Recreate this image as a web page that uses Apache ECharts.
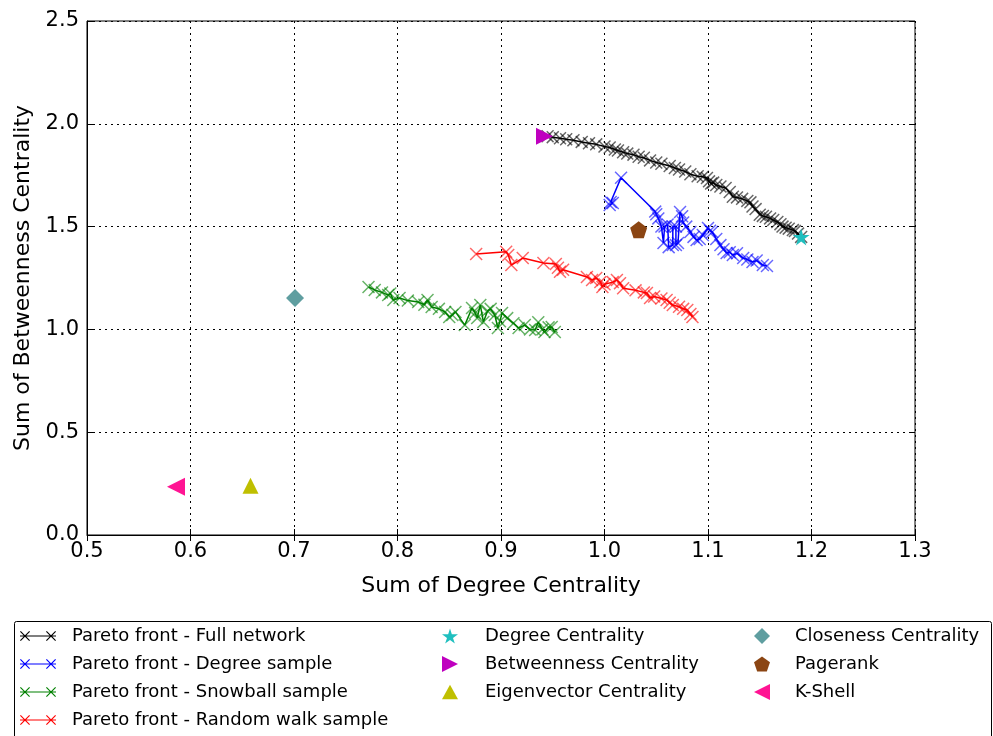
<!DOCTYPE html>
<html>
<head>
<meta charset="utf-8">
<script src="https://cdn.jsdelivr.net/npm/echarts@6/dist/echarts.min.js"></script>
<style>
html,body{margin:0;padding:0;background:#fff;}
#chart{width:993px;height:736px;}
</style>
</head>
<body>
<div id="chart"></div>
<script>
// ---- data ----
const xTicks = ['0.5','0.6','0.7','0.8','0.9','1.0','1.1','1.2','1.3'];
const yTicks = ['0.0','0.5','1.0','1.5','2.0','2.5'];

const fullNetwork = [
  [0.945,1.94],[0.95,1.935],[0.957,1.93],[0.963,1.925],[0.97,1.92],[0.978,1.912],[0.985,1.905],[0.992,1.9],
  [1.0,1.89],[1.005,1.885],[1.01,1.875],[1.013,1.87],[1.018,1.862],[1.022,1.855],[1.028,1.85],[1.033,1.84],
  [1.038,1.835],[1.044,1.822],[1.05,1.812],[1.055,1.806],[1.063,1.795],[1.068,1.785],[1.072,1.778],[1.078,1.768],
  [1.083,1.755],[1.09,1.745],[1.095,1.742],[1.099,1.736],[1.101,1.72],[1.103,1.71],[1.105,1.714],[1.108,1.702],
  [1.112,1.695],[1.117,1.688],[1.121,1.668],[1.124,1.645],[1.128,1.642],[1.133,1.635],[1.138,1.625],[1.141,1.618],
  [1.143,1.598],[1.146,1.585],[1.15,1.558],[1.153,1.552],[1.156,1.548],[1.16,1.54],[1.163,1.532],[1.167,1.522],
  [1.17,1.512],[1.172,1.5],[1.175,1.495],[1.178,1.49],[1.182,1.483],[1.184,1.478],[1.187,1.466],[1.19,1.45]
];
const degreeSample = [
  [1.005,1.605],[1.008,1.615],[1.006,1.62],[1.016,1.738],[1.049,1.573],[1.05,1.56],[1.052,1.54],[1.055,1.5],
  [1.057,1.42],[1.058,1.5],[1.061,1.51],[1.062,1.4],[1.066,1.41],[1.066,1.5],[1.069,1.5],[1.069,1.41],
  [1.071,1.42],[1.073,1.571],[1.075,1.55],[1.076,1.52],[1.079,1.5],[1.083,1.474],[1.086,1.45],[1.089,1.435],
  [1.092,1.44],[1.095,1.459],[1.1,1.493],[1.102,1.48],[1.104,1.474],[1.108,1.44],[1.112,1.41],[1.115,1.39],
  [1.118,1.372],[1.121,1.375],[1.124,1.362],[1.128,1.37],[1.134,1.347],[1.138,1.34],[1.143,1.328],[1.147,1.335],
  [1.153,1.313],[1.157,1.308]
];
const snowballSample = [
  [0.772,1.206],[0.778,1.192],[0.785,1.18],[0.791,1.167],[0.793,1.175],[0.796,1.143],[0.802,1.153],[0.81,1.14],
  [0.82,1.133],[0.826,1.12],[0.829,1.143],[0.833,1.109],[0.84,1.1],[0.846,1.085],[0.85,1.06],[0.853,1.07],
  [0.856,1.085],[0.865,1.021],[0.872,1.104],[0.875,1.08],[0.877,1.055],[0.88,1.119],[0.883,1.036],[0.887,1.09],
  [0.89,1.1],[0.894,1.07],[0.897,1.007],[0.899,1.04],[0.901,1.08],[0.906,1.055],[0.912,1.03],[0.917,1.007],
  [0.923,1.021],[0.928,1.0],[0.933,0.997],[0.936,1.035],[0.94,1.0],[0.942,0.987],[0.946,1.01],[0.949,1.012],
  [0.952,0.987]
];
const randomWalkSample = [
  [0.876,1.367],[0.905,1.378],[0.907,1.362],[0.91,1.313],[0.921,1.347],[0.941,1.323],[0.953,1.318],[0.955,1.3],
  [0.957,1.28],[0.96,1.29],[0.983,1.255],[0.988,1.24],[0.992,1.25],[0.996,1.23],[0.998,1.206],[1.0,1.22],
  [1.008,1.23],[1.012,1.24],[1.015,1.225],[1.018,1.2],[1.03,1.19],[1.038,1.18],[1.041,1.177],[1.044,1.153],
  [1.048,1.16],[1.055,1.15],[1.06,1.143],[1.063,1.13],[1.066,1.119],[1.072,1.11],[1.076,1.1],[1.08,1.094],
  [1.083,1.075],[1.085,1.06]
];
const degreeCentrality = [[1.19,1.45]];
const betweennessCentrality = [[0.942,1.94]];
const eigenvectorCentrality = [[0.658,0.24]];
const closenessCentrality = [[0.701,1.153]];
const pagerank = [[1.033,1.485]];
const kShell = [[0.586,0.235]];

const lineNames = ['Pareto front - Full network','Pareto front - Degree sample','Pareto front - Snowball sample','Pareto front - Random walk sample'];
const markerNames2 = ['Degree Centrality','Betweenness Centrality','Eigenvector Centrality'];
const markerNames3 = ['Closeness Centrality','Pagerank','K-Shell'];

// ---- symbols ----
const X_SYM = 'path://M0,0.8 L0.8,0 L10,9.2 L9.2,10 Z M9.2,0 L10,0.8 L0.8,10 L0,9.2 Z';
const LINE_ICON = 'path://M0,5.4 L36,5.4 L36,6.6 L0,6.6 Z M0,1.8 L0.8,1 L10,10.2 L9.2,11 Z M9.2,1 L10,1.8 L0.8,11 L0,10.2 Z M26,1.8 L26.8,1 L36,10.2 L35.2,11 Z M35.2,1 L36,1.8 L26.8,11 L26,10.2 Z';
const STAR = 'path://M50,0 L61,35 L98,35 L68,57 L79,91 L50,70 L21,91 L32,57 L2,35 L39,35 Z';
const PENT = 'path://M50,0 L98,35 L79,91 L21,91 L2,35 Z';
const TRI_R = 'path://M0,0 L100,50 L0,100 Z';
const TRI_L = 'path://M100,0 L0,50 L100,100 Z';
const TRI_U = 'path://M50,0 L100,90 L0,90 Z';
const DIAM = 'path://M50,0 L100,50 L50,100 L0,50 Z';

const FONT = 'DejaVu Sans';

function lineSeries(name, data, color) {
  return {
    name, type: 'line', data, color,
    symbol: X_SYM, symbolSize: 13, showSymbol: true,
    lineStyle: {color, width: 1.5},
    itemStyle: {color, opacity: 0.6},
    emphasis: {disabled: true}, animation: false
  };
}
function markSeries(name, data, color, symbol, size) {
  return {
    name, type: 'scatter', data, color, symbol, symbolSize: size,
    itemStyle: {color, opacity: 1}, emphasis: {disabled: true}, animation: false, z: 5
  };
}

const chart = echarts.init(document.getElementById('chart'), null, {renderer: 'canvas'});

const legendText = {fontFamily: FONT, fontSize: 18, color: '#000', lineHeight: 18};

chart.setOption({
  backgroundColor: '#fff',
  animation: false,
  grid: {left: 87, right: 78, top: 21, bottom: 201, show: true, borderColor: '#000', borderWidth: 1, backgroundColor: 'transparent'},
  xAxis: [{
    type: 'value', min: 0.5, max: 1.3, interval: 0.1,
    name: 'Sum of Degree Centrality', nameLocation: 'middle', nameGap: 40,
    nameTextStyle: {fontFamily: FONT, fontSize: 22, color: '#000'},
    axisLine: {show: true, lineStyle: {color: '#000', width: 1}},
    axisTick: {show: true, inside: true, length: 6, lineStyle: {color: '#000'}},
    axisLabel: {fontFamily: FONT, fontSize: 21, color: '#000', margin: 6,
      formatter: v => xTicks[Math.round((v - 0.5) * 10)] || ''},
    splitLine: {show: true, lineStyle: {color: '#000', type: [2, 4], width: 1}}
  }, {
    type: 'value', min: 0.5, max: 1.3, interval: 0.1, position: 'top',
    axisLine: {show: false}, axisTick: {show: true, inside: true, length: 6, lineStyle: {color: '#000'}},
    axisLabel: {show: false}, splitLine: {show: false}
  }],
  yAxis: [{
    type: 'value', min: 0, max: 2.5, interval: 0.5,
    name: 'Sum of Betweenness Centrality', nameLocation: 'middle', nameGap: 52,
    nameTextStyle: {fontFamily: FONT, fontSize: 22, color: '#000'},
    axisLine: {show: true, lineStyle: {color: '#000', width: 1}},
    axisTick: {show: true, inside: true, length: 6, lineStyle: {color: '#000'}},
    axisLabel: {fontFamily: FONT, fontSize: 21, color: '#000', margin: 8,
      formatter: v => yTicks[Math.round(v * 2)] || ''},
    splitLine: {show: true, lineStyle: {color: '#000', type: [2, 4], width: 1}}
  }, {
    type: 'value', min: 0, max: 2.5, interval: 0.5, position: 'right',
    axisLine: {show: false}, axisTick: {show: true, inside: true, length: 6, lineStyle: {color: '#000'}},
    axisLabel: {show: false}, splitLine: {show: false}
  }],
  graphic: [{
    type: 'rect', z: -1, silent: true,
    shape: {x: 14.5, y: 621.5, width: 977, height: 130, r: 2},
    style: {fill: '#fff', stroke: '#000', lineWidth: 1}
  }],
  legend: [{
    orient: 'vertical', left: 20, top: 627, padding: 0, itemGap: 10,
    itemWidth: 36, itemHeight: 18, selectedMode: false,
    textStyle: Object.assign({padding: [0, 0, 0, 11]}, legendText),
    data: lineNames.map(n => ({name: n, icon: LINE_ICON, itemStyle: {opacity: 1}}))
  }, {
    orient: 'vertical', left: 442, top: 627, padding: 0, itemGap: 10,
    itemWidth: 16, itemHeight: 18, selectedMode: false,
    textStyle: Object.assign({padding: [0, 0, 0, 22]}, legendText),
    data: [{name: markerNames2[0], icon: STAR}, {name: markerNames2[1], icon: TRI_R}, {name: markerNames2[2], icon: TRI_U}]
  }, {
    orient: 'vertical', left: 754, top: 627, padding: 0, itemGap: 10,
    itemWidth: 16, itemHeight: 18, selectedMode: false,
    textStyle: Object.assign({padding: [0, 0, 0, 20]}, legendText),
    data: [{name: markerNames3[0], icon: DIAM}, {name: markerNames3[1], icon: PENT}, {name: markerNames3[2], icon: TRI_L}]
  }],
  series: [
    lineSeries(lineNames[0], fullNetwork, '#000000'),
    lineSeries(lineNames[1], degreeSample, '#0000ff'),
    lineSeries(lineNames[2], snowballSample, '#008000'),
    lineSeries(lineNames[3], randomWalkSample, '#ff0000'),
    markSeries(markerNames2[0], degreeCentrality, '#1fbfbf', STAR, 17),
    markSeries(markerNames2[1], betweennessCentrality, '#bf00bf', TRI_R, 17),
    markSeries(markerNames2[2], eigenvectorCentrality, '#bfbf00', TRI_U, 16),
    markSeries(markerNames3[0], closenessCentrality, '#5f9ea0', DIAM, 18),
    markSeries(markerNames3[1], pagerank, '#8b4513', PENT, 17),
    markSeries(markerNames3[2], kShell, '#ff1493', TRI_L, 18)
  ]
});
</script>
</body>
</html>
